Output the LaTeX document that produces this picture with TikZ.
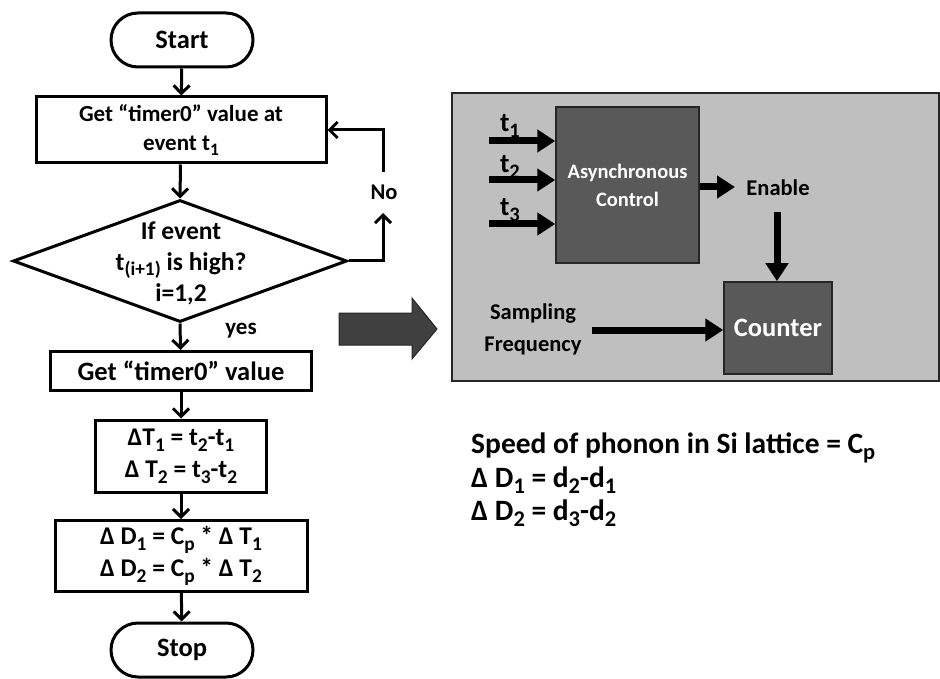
\documentclass[tikz,border=0pt]{standalone}
\usepackage{fontspec}
\usepackage{graphicx}
\setmainfont{Carlito}
\usetikzlibrary{arrows.meta,shapes.geometric,shapes.misc}

\definecolor{panelgray}{HTML}{BFBFBF}
\definecolor{blockgray}{HTML}{595959}
\definecolor{bigarrow}{HTML}{404040}
\definecolor{edgegray}{HTML}{262626}

\newcommand\fsz[1]{\fontsize{#1pt}{#1pt}\selectfont\bfseries}
\newcommand\fszl[2]{\fontsize{#1pt}{#2pt}\selectfont\bfseries}
% lowered, slightly reduced index
\newcommand\sbs[1]{\raisebox{-0.22em}{\scalebox{0.76}{#1}}}

\tikzset{
  flowline/.style={line width=3pt},
  flowarr/.style={flowline, -{Straight Barb[length=8pt,width=16pt,line width=3pt]}},
  termbox/.style={draw, flowline, rounded rectangle, minimum width=142pt, minimum height=54pt, inner sep=0pt},
  procbox/.style={draw, flowline, rectangle, inner sep=0pt, align=center},
  blkarr/.style={line width=7pt, -{Triangle[length=18pt,width=22pt]}},
  darkblock/.style={draw=edgegray, line width=1.5pt, fill=blockgray, text=white, inner sep=0pt, align=center},
  plain/.style={inner sep=0pt, align=center},
}

\begin{document}
\begin{tikzpicture}[x=1pt,y=-1pt]
\useasboundingbox (0,0) rectangle (940,679);

% ---------------- flowchart ----------------
\node[termbox, font=\fsz{26.5}] (start) at (182,40) {Start};
\node[procbox, minimum width=290pt, minimum height=66pt, font=\fszl{23}{29}]
  (get1) at (181,130) {Get “timer0” value at\\event t\sbs{1}};
\node[draw, flowline, diamond, minimum width=334pt, minimum height=122pt, inner sep=0pt] (dec) at (180,261) {};
\node[plain, font=\fszl{25.5}{31}] (dectext) at (181,263)
  {If event\\t\sbs{(i+1)} is high?\\i=1,2};
\node[procbox, minimum width=261pt, minimum height=39pt, font=\fsz{26.5}] (get2) at (181,371) {Get “timer0” value};
\node[procbox, minimum width=171pt, minimum height=72pt, font=\fszl{25.5}{32}]
  (dt) at (181,456) {ΔT\sbs{1} = t\sbs{2}-t\sbs{1}\\Δ T\sbs{2} = t\sbs{3}-t\sbs{2}};
\node[procbox, minimum width=252pt, minimum height=71pt, font=\fszl{25.5}{32}]
  (dd) at (181,556) {Δ D\sbs{1} = C\sbs{p} * Δ T\sbs{1}\\Δ D\sbs{2} = C\sbs{p} * Δ T\sbs{2}};
\node[termbox, font=\fsz{26.5}] (stop) at (182,650) {Stop};

\node[plain, font=\fsz{22.5}] (no) at (384,192) {No};
\node[plain, font=\fsz{23}] (yes) at (241,331) {yes};

\coordinate (noturn) at (383,261);
\coordinate (noend) at (383,213);
\coordinate (nostart) at (383,172);
\coordinate (noback) at (383,130);

\draw[flowarr] (start) -- (get1);
\draw[flowarr] (get1) -- (dec.north);
\draw[flowarr] (dec.east) -- (noturn) -- (noend);
\draw[flowarr] (nostart) -- (noback) -- (get1.east);
\draw[flowarr] (dec.south) -- (get2);
\draw[flowarr] (get2) -- (dt);
\draw[flowarr] (dt) -- (dd);
\draw[flowarr] (dd) -- (stop);

% ---------------- block arrow ----------------
\draw[draw=edgegray, line width=1pt, fill=bigarrow]
  (339,313) -- (412,313) -- (412,298) -- (437,329) -- (412,359) -- (412,345) -- (339,345) -- cycle;

% ---------------- hardware panel ----------------
\node[draw=edgegray, line width=1.5pt, fill=panelgray, minimum width=487pt, minimum height=288pt, inner sep=0pt]
  (panel) at (695.5,237) {};
\node[darkblock, minimum width=143pt, minimum height=156pt, font=\fszl{20.5}{28}]
  (async) at (627.5,185) {Asynchronous\\Control};
\node[darkblock, minimum width=108pt, minimum height=92pt, font=\fsz{26.5}] (counter) at (778,328) {Counter};

\node[plain, font=\fsz{22.5}] (enable) at (778,188) {Enable};
\node[plain, font=\fszl{22.5}{32}] (samp) at (533,329) {Sampling\\Frequency};

\node[plain, font=\fsz{27}] (t1lab) at (510,126) {t\sbs{1}};
\node[plain, font=\fsz{27}] (t2lab) at (510,167) {t\sbs{2}};
\node[plain, font=\fsz{27}] (t3lab) at (510,210) {t\sbs{3}};

\coordinate (t1in) at (489,141);
\coordinate (t2in) at (489,180);
\coordinate (t3in) at (489,224);
\coordinate (enin) at (735,187);
\coordinate (endown) at (777,212);
\coordinate (sampin) at (592,330);

\draw[blkarr] (t1in) -- (t1in -| async.west);
\draw[blkarr] (t2in) -- (t2in -| async.west);
\draw[blkarr] (t3in) -- (t3in -| async.west);
\draw[blkarr] (async.east |- enin) -- (enin);
\draw[blkarr] (endown) -- (endown |- counter.north);
\draw[blkarr] (sampin) -- (sampin -| counter.west);

% ---------------- relations ----------------
\node[anchor=base west, inner sep=0pt, font=\fsz{29.5}] (speed) at (471,453) {Speed of phonon in Si lattice = C\sbs{p}};
\node[anchor=base west, inner sep=0pt, font=\fsz{29.5}] (dd1) at (471,487) {Δ D\sbs{1} = d\sbs{2}-d\sbs{1}};
\node[anchor=base west, inner sep=0pt, font=\fsz{29.5}] (dd2) at (471,520) {Δ D\sbs{2} = d\sbs{3}-d\sbs{2}};

\end{tikzpicture}
\end{document}
